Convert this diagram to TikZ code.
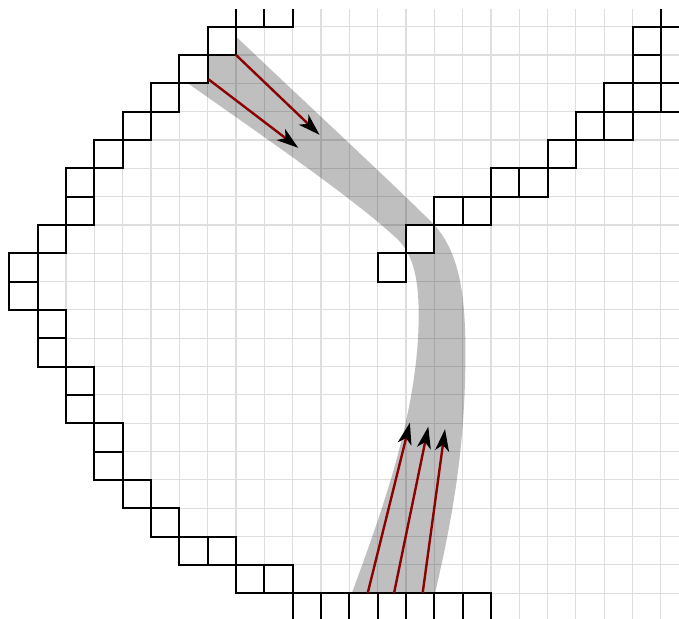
\documentclass[tikz,border=0pt]{standalone}
\usetikzlibrary{arrows.meta}
\definecolor{tinta}{HTML}{000000}
\definecolor{grilla}{HTML}{DEDEDE}
\definecolor{rojorayo}{HTML}{8B0000}
\tikzset{
  grillafina/.style={draw=grilla, line width=0.6pt},
  celda/.style={draw=tinta, fill=white, line width=1pt},
  haz/.style={fill=tinta, fill opacity=0.25},
  rayo/.style={draw=rojorayo, line width=1.2pt,
               -{Stealth[length=11pt, width=7pt, inset=3pt, color=tinta]}}
}
\begin{document}
\begin{tikzpicture}[x=0.5cm, y=0.5cm]
  \useasboundingbox (-0.33,-0.91) rectangle (23.64,20.94);
  \begin{scope}
    \clip (-0.33,-0.91) rectangle (23.64,20.59);
    \draw [grillafina, step=0.5cm] (-1,-2) grid (25,22);
    % haz de rayos
    \fill [haz] (7.8,19.84) .. controls (11,16.8) and (13.5,14.5) .. (15,13)
      .. controls (15.9,12) and (16.1,10.5) .. (16.1,8.5)
      .. controls (16.1,5) and (15.6,2.5) .. (15.03,0) -- (12.09,0)
      .. controls (13.2,3) and (14.45,6.5) .. (14.45,9.8)
      .. controls (14.45,11) and (14.3,11.9) .. (13.7,12.5)
      .. controls (12.2,13.9) and (9,16.1) .. (6.1,18.14) -- cycle;
    % fuera del borde
    \fill [white] (8,22) -- (8,20) -- (7,20) -- (7,19) -- (6,19) -- (6,18) -- (5,18)
      -- (5,17) -- (4,17) -- (4,16) -- (3,16) -- (3,15) -- (2,15) -- (2,13) -- (1,13)
      -- (1,12) -- (0,12) -- (0,10) -- (1,10) -- (1,8) -- (2,8) -- (2,6) -- (3,6)
      -- (3,4) -- (4,4) -- (4,3) -- (5,3) -- (5,2) -- (6,2) -- (6,1) -- (8,1)
      -- (8,0) -- (10,0) -- (10,-2) -- (-1,-2) -- (-1,22) -- cycle;
    \foreach \i/\j in {8/20, 9/20, 7/19, 6/18, 5/17, 4/16, 3/15, 2/14, 2/13, 1/12,
                       0/11, 0/10, 1/9, 1/8, 2/7, 2/6, 3/5, 3/4, 4/3, 5/2, 6/1, 7/1,
                       8/0, 9/0, 10/-1, 11/-1, 12/-1, 13/-1, 14/-1, 15/-1, 16/-1,
                       13/11, 14/12, 15/13, 16/13, 17/14, 18/14, 19/15, 20/16, 21/16,
                       21/17, 22/17, 22/18, 22/19, 23/17, 23/20}
      \draw [celda] (\i,\j) rectangle ++(1,1);
  \end{scope}
  \coordinate (ini1) at (8,19);
  \coordinate (fin1) at (10.95,16.18);
  \coordinate (ini2) at (7.03,18.14);
  \coordinate (fin2) at (10.2,15.72);
  \coordinate (ini3) at (12.65,0);
  \coordinate (fin3) at (14.14,6.02);
  \coordinate (ini4) at (13.58,0);
  \coordinate (fin4) at (14.79,5.88);
  \coordinate (ini5) at (14.59,0);
  \coordinate (fin5) at (15.38,5.79);
  \draw [rayo] (ini1) -- (fin1);
  \draw [rayo] (ini2) -- (fin2);
  \draw [rayo] (ini3) -- (fin3);
  \draw [rayo] (ini4) -- (fin4);
  \draw [rayo] (ini5) -- (fin5);
\end{tikzpicture}
\end{document}
